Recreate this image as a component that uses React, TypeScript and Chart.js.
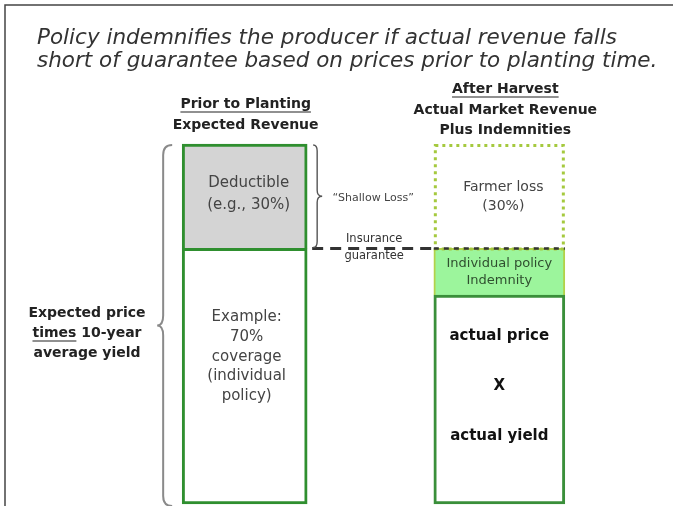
import React, { useEffect, useRef } from "react";
import { Chart, registerables } from "chart.js";

Chart.register(...registerables);

// ---- data ----
const categories = ["Prior to Planting", "", "After Harvest"];
const coverage = [71, null, null];
const deductible = [29, null, null];
const actualRevenue = [null, null, 58];
const indemnity = [null, null, 13];
const farmerLoss = [null, null, 29];
const guaranteeLevel = 71;

const titleLines = [
  "Policy indemnifies the producer if actual revenue falls",
  "short of guarantee based on prices prior to planting time.",
];
const leftHeader = ["Prior to Planting", "Expected Revenue"];
const rightHeader = ["After Harvest", "Actual Market Revenue", "Plus Indemnities"];
const deductibleText = ["Deductible", "(e.g., 30%)"];
const coverageText = ["Example:", "70%", "coverage", "(individual", "policy)"];
const farmerLossText = ["Farmer loss", "(30%)"];
const indemnityText = ["Individual policy", "Indemnity"];
const actualText = ["actual price", "X", "actual yield"];
const braceText = ["Expected price", "times", " 10-year", "average yield"];
const shallowText = "\u201CShallow Loss\u201D";
const guaranteeText = ["Insurance", "guarantee"];

const FONT = "'DejaVu Sans', Verdana, sans-serif";
const GREEN = "#2f8f2f";

function drawBrace(ctx: CanvasRenderingContext2D, xEnd: number, xMid: number, xTip: number, y1: number, y2: number, r: number) {
  const ym = (y1 + y2) / 2;
  ctx.beginPath();
  ctx.moveTo(xEnd, y1);
  ctx.quadraticCurveTo(xMid, y1, xMid, y1 + r);
  ctx.lineTo(xMid, ym - r);
  ctx.quadraticCurveTo(xMid, ym, xTip, ym);
  ctx.quadraticCurveTo(xMid, ym, xMid, ym + r);
  ctx.lineTo(xMid, y2 - r);
  ctx.quadraticCurveTo(xMid, y2, xEnd, y2);
  ctx.stroke();
}

function textLines(ctx: CanvasRenderingContext2D, lines: string[], cx: number, y0: number, lh: number) {
  lines.forEach((t, i) => ctx.fillText(t, cx, y0 + i * lh));
}

function underline(ctx: CanvasRenderingContext2D, t: string, cx: number, y: number, off: number) {
  const w = ctx.measureText(t).width;
  ctx.beginPath();
  ctx.moveTo(cx - w / 2, y + off);
  ctx.lineTo(cx + w / 2, y + off);
  ctx.stroke();
}

const overlay = {
  id: "overlay",
  afterDatasetsDraw(chart: any) {
    const ctx: CanvasRenderingContext2D = chart.ctx;
    const yS = chart.scales.y;
    const cov = chart.getDatasetMeta(0).data[0];
    const ded = chart.getDatasetMeta(1).data[0];
    const act = chart.getDatasetMeta(2).data[2];
    const ind = chart.getDatasetMeta(3).data[2];
    const loss = chart.getDatasetMeta(4).data[2];
    const lLeft = cov.x - cov.width / 2;
    const lRight = cov.x + cov.width / 2;
    const rLeft = act.x - act.width / 2;
    const rRight = act.x + act.width / 2;
    ctx.save();

    // frame
    ctx.strokeStyle = "#444";
    ctx.lineWidth = 1.5;
    ctx.beginPath();
    ctx.moveTo(5, 506);
    ctx.lineTo(5, 5);
    ctx.lineTo(673, 5);
    ctx.stroke();

    // title
    ctx.fillStyle = "#333";
    ctx.textBaseline = "middle";
    ctx.textAlign = "left";
    ctx.font = `italic 21.5px ${FONT}`;
    ctx.fillText(titleLines[0], 37, 38);
    ctx.fillText(titleLines[1], 37, 61);

    // headers
    ctx.textAlign = "center";
    ctx.fillStyle = "#222";
    ctx.strokeStyle = "#222";
    ctx.lineWidth = 1.2;
    ctx.font = `bold 14px ${FONT}`;
    const lcx = cov.x + 1;
    ctx.fillText(leftHeader[0], lcx, 104);
    underline(ctx, leftHeader[0], lcx, 104, 8);
    ctx.fillText(leftHeader[1], lcx, 125);
    const rcx = act.x + 6;
    ctx.fillText(rightHeader[0], rcx, 89);
    underline(ctx, rightHeader[0], rcx, 89, 8);
    ctx.fillText(rightHeader[1], rcx, 110);
    ctx.fillText(rightHeader[2], rcx, 130);

    // farmer loss dotted box
    ctx.strokeStyle = "#a5c93e";
    ctx.lineWidth = 3;
    ctx.setLineDash([3, 4]);
    ctx.strokeRect(loss.x - loss.width / 2 + 1.5, loss.y + 1.5, loss.width - 3, loss.base - loss.y - 1);
    ctx.setLineDash([]);

    // guarantee dashed line
    const yG = yS.getPixelForValue(guaranteeLevel);
    ctx.strokeStyle = "#333";
    ctx.lineWidth = 3;
    ctx.setLineDash([11, 7]);
    ctx.beginPath();
    ctx.moveTo(lRight + 5, yG);
    ctx.lineTo(rLeft, yG);
    ctx.stroke();
    ctx.setLineDash([5, 5]);
    ctx.lineWidth = 2.5;
    ctx.beginPath();
    ctx.moveTo(rLeft, yG);
    ctx.lineTo(rRight, yG);
    ctx.stroke();
    ctx.setLineDash([]);

    // small brace (shallow loss)
    ctx.strokeStyle = "#555";
    ctx.lineWidth = 1.4;
    drawBrace(ctx, lRight + 6, lRight + 10, lRight + 15, ded.y + 1, ded.base - 1, 6);
    ctx.fillStyle = "#444";
    ctx.font = `11px ${FONT}`;
    ctx.fillText(shallowText, lRight + 66, (ded.y + ded.base) / 2 + 2);
    ctx.fillStyle = "#333";
    ctx.font = `11.5px ${FONT}`;
    ctx.fillText(guaranteeText[0], lRight + 67, yG - 9);
    ctx.fillText(guaranteeText[1], lRight + 67, yG + 8);

    // big left brace
    ctx.strokeStyle = "#8a8a8a";
    ctx.lineWidth = 2;
    drawBrace(ctx, lLeft - 10, lLeft - 19, lLeft - 25, ded.y + 1, cov.base + 2, 10);

    // left text
    ctx.fillStyle = "#222";
    ctx.strokeStyle = "#222";
    ctx.lineWidth = 1.2;
    ctx.font = `bold 14px ${FONT}`;
    const tcx = 87;
    const tmid = (ded.y + cov.base) / 2;
    ctx.fillText(braceText[0], tcx, tmid - 11);
    const w1 = ctx.measureText(braceText[1]).width;
    const w2 = ctx.measureText(braceText[2]).width;
    const sx = tcx - (w1 + w2) / 2;
    ctx.textAlign = "left";
    ctx.fillText(braceText[1], sx, tmid + 9);
    ctx.fillText(braceText[2], sx + w1, tmid + 9);
    ctx.beginPath();
    ctx.moveTo(sx, tmid + 17);
    ctx.lineTo(sx + w1, tmid + 17);
    ctx.stroke();
    ctx.textAlign = "center";
    ctx.fillText(braceText[3], tcx, tmid + 29);

    // inside left bar
    ctx.fillStyle = "#444";
    ctx.font = `15px ${FONT}`;
    const dmid = (ded.y + ded.base) / 2;
    textLines(ctx, deductibleText, ded.x + 4, dmid - 13, 22);
    const cmid = (cov.y + cov.base) / 2;
    textLines(ctx, coverageText, cov.x + 2, cmid - 59, 19.8);

    // right bar texts
    ctx.fillStyle = "#444";
    ctx.font = `14px ${FONT}`;
    const lmid = (loss.y + loss.base) / 2;
    textLines(ctx, farmerLossText, loss.x + 4, lmid - 9, 19);
    ctx.fillStyle = "#2f4f2f";
    ctx.font = `13px ${FONT}`;
    const imid = (ind.y + ind.base) / 2;
    textLines(ctx, indemnityText, ind.x, imid - 8, 17);
    ctx.fillStyle = "#111";
    ctx.font = `bold 15px ${FONT}`;
    const amid = (act.y + act.base) / 2;
    textLines(ctx, actualText, act.x, amid - 63, 50);

    ctx.restore();
  },
};

export default function App() {
  const ref = useRef<HTMLCanvasElement>(null);
  useEffect(() => {
    if (!ref.current) return;
    const common = { borderSkipped: false as const, clip: false as const };
    const chart = new Chart(ref.current, {
      type: "bar",
      data: {
        labels: categories,
        datasets: [
          { label: "Coverage", data: coverage, backgroundColor: "#ffffff", borderColor: GREEN, borderWidth: { top: 3, left: 3, right: 3, bottom: 3 }, barThickness: 125, ...common },
          { label: "Deductible", data: deductible, backgroundColor: "#d4d4d4", borderColor: GREEN, borderWidth: { top: 3, left: 3, right: 3, bottom: 0 }, barThickness: 125, ...common },
          { label: "Actual revenue", data: actualRevenue, backgroundColor: "#ffffff", borderColor: "#3a8f3a", borderWidth: 3, barThickness: 131, ...common },
          { label: "Indemnity", data: indemnity, backgroundColor: "#9cf59c", borderColor: "#b2d24a", borderWidth: { top: 2, left: 2, right: 2, bottom: 0 }, barThickness: 131, ...common },
          { label: "Farmer loss", data: farmerLoss, backgroundColor: "rgba(255,255,255,0)", borderWidth: 0, barThickness: 131, ...common },
        ] as any,
      },
      options: {
        responsive: false,
        animation: false,
        devicePixelRatio: 1,
        layout: { padding: { left: 181, right: 110, top: 144, bottom: 2 } },
        plugins: { legend: { display: false }, tooltip: { enabled: false }, title: { display: false } },
        scales: {
          x: { stacked: true, display: false },
          y: { stacked: true, display: false, min: 0, max: 100 },
        },
      },
      plugins: [overlay],
    });
    return () => chart.destroy();
  }, []);
  return (
    <div style={{ position: "fixed", left: 0, top: 0, width: 673, height: 506, background: "#fff" }}>
      <canvas ref={ref} width={673} height={506} />
    </div>
  );
}
